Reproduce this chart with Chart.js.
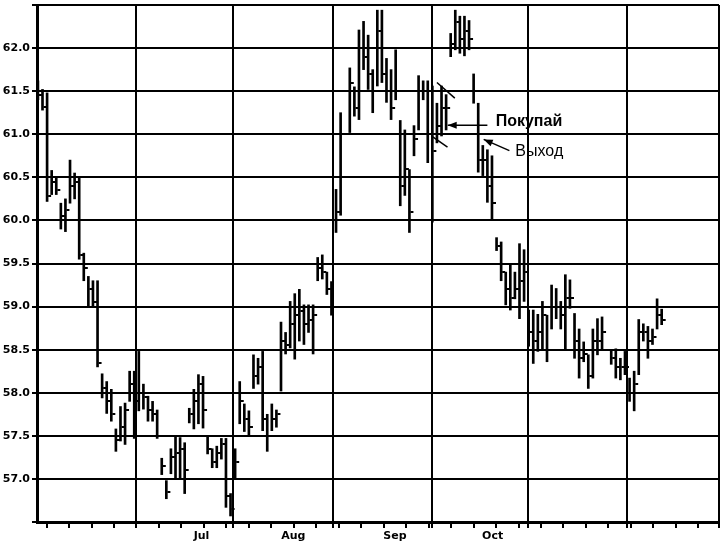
<!DOCTYPE html>
<html>
<head>
<meta charset="utf-8">
<script src="https://cdn.jsdelivr.net/npm/chart.js@4.4.1/dist/chart.umd.min.js"></script>
<style>
  html, body { margin: 0; padding: 0; background: #fff; }
  canvas { display: block; }
</style>
</head>
<body>
<canvas id="myChart" width="724" height="545"></canvas>
<script>
// daily high / low / close, one per trading day (null = no bar)
const highs = [
  61.62, 61.52, 61.48, 60.58, 60.50, 60.20, 60.25, 60.70, 60.55, 60.50,
  59.62, 59.35, 59.30, 59.30, 58.22, 58.13, 58.04, 57.58, 57.84, 57.88,
  58.25, 58.25, 58.48, 58.10, 57.96, 57.90, 57.80, 57.24, 56.98, 57.35,
  57.50, 57.48, 57.42, 57.82, 58.04, 58.21, 58.19, 57.50, 57.35, 57.38,
  57.47, 57.47, 56.83, 57.35, 58.13, 57.87, 57.79, 58.44, 58.40, 58.48,
  57.75, 57.87, 57.80, 58.82, 58.70, 59.06, 59.15, 59.20, 59.02, 59.02,
  59.02, 59.57, 59.60, 59.40, 59.29, 60.36, 61.25, null, 61.77, 61.55,
  62.21, 62.31, 62.15, 61.75, 62.44, 62.44, 61.88, 61.75, 61.98, 61.16,
  61.05, 60.59, 61.10, 61.68, 61.62, 61.62, 61.56, 61.36, 61.56, 61.46,
  62.17, 62.44, 62.37, 62.37, 62.32, 61.70, 61.36, 60.87, 60.82, 60.75,
  59.80, 59.75, 59.40, 59.48, 59.40, 59.73, 59.66, 58.96, 58.96, 58.91,
  59.06, 58.90, 59.25, 59.21, 59.06, 59.37, 59.31, 58.92, 58.74, 58.59,
  58.44, 58.74, 58.86, 58.88, null, 58.50, 58.51, 58.40, 58.48, 58.17,
  58.25, 58.85, 58.80, 58.77, 58.74, 59.09, 58.97
];
const lows = [
  61.40, 61.28, 60.22, 60.30, 60.30, 59.90, 59.87, 60.20, 60.25, 59.55,
  59.30, 59.00, 59.00, 58.30, 57.94, 57.76, 57.67, 57.32, 57.44, 57.40,
  57.90, 57.47, 57.79, 57.81, 57.67, 57.67, 57.47, 57.05, 56.77, 57.06,
  57.00, 57.00, 56.83, 57.65, 57.58, 57.64, 57.59, 57.29, 57.13, 57.13,
  57.23, 56.67, 56.57, 57.00, 57.64, 57.55, 57.50, 58.05, 58.10, 57.56,
  57.32, 57.56, 57.60, 58.02, 58.45, 58.52, 58.39, 58.60, 58.56, 58.70,
  58.45, 59.30, 59.32, 59.14, 58.90, 59.86, 60.06, null, 61.02, 61.21,
  61.17, 61.75, 61.52, 61.25, 61.56, 61.60, 61.37, 61.17, 61.40, 60.17,
  60.29, 59.86, 60.75, 61.05, 61.40, 60.67, 59.98, 60.90, 60.98, 61.05,
  61.90, 61.98, 61.94, 61.91, 61.98, 61.36, 60.56, 60.52, 60.21, 60.01,
  59.65, 59.30, 59.02, 58.96, 59.09, 58.86, 59.06, 58.54, 58.34, 58.48,
  58.51, 58.36, 58.74, 58.86, 58.74, 58.51, 58.98, 58.40, 58.17, 58.36,
  58.05, 58.17, 58.44, 58.51, null, 58.33, 58.17, 58.15, 58.21, 57.90,
  57.79, 58.21, 58.60, 58.40, 58.56, 58.74, 58.79
];
const closes = [
  61.45, 61.32, 60.28, 60.45, 60.35, 60.05, 60.12, 60.40, 60.45, 59.60,
  59.45, 59.20, 59.05, 58.35, 58.05, 57.90, 57.75, 57.45, 57.60, 57.80,
  58.10, 57.90, 58.00, 57.95, 57.80, 57.75, 57.50, 57.15, 56.85, 57.25,
  57.30, 57.35, 57.10, 57.75, 57.90, 58.10, 57.80, 57.35, 57.20, 57.30,
  57.40, 56.80, 56.65, 57.20, 57.90, 57.70, 57.60, 58.20, 58.30, 57.70,
  57.50, 57.70, 57.75, 58.60, 58.55, 58.80, 58.90, 58.95, 58.80, 58.85,
  58.90, 59.45, 59.40, 59.20, 59.00, 60.10, 61.00, null, 61.60, 61.30,
  62.00, 61.90, 61.70, 61.50, 62.20, 61.70, 61.50, 61.30, 61.50, 60.40,
  60.60, 60.10, 60.95, 61.50, 61.50, 61.00, 60.80, 61.10, 61.30, 61.30,
  62.05, 62.30, 62.10, 62.20, 62.10, 61.50, 60.70, 60.70, 60.40, 60.20,
  59.70, 59.40, 59.20, 59.10, 59.20, 59.30, 59.40, 58.70, 58.60, 58.70,
  58.90, 58.50, 59.00, 59.00, 58.90, 59.10, 59.10, 58.60, 58.40, 58.45,
  58.20, 58.60, 58.60, 58.70, null, 58.40, 58.30, 58.30, 58.30, 58.00,
  58.10, 58.70, 58.70, 58.60, 58.65, 58.90, 58.85
];

// axis: month names and where they sit (in trading days)
const monthNames = ['Jul', 'Aug', 'Sep', 'Oct'];
const monthLabelPos = [35.67, 55.67, 77.84, 99.15];
const monthLines = [21.32, 42.63, 64.37, 85.89, 106.76, 128.5, 148.5];
const xMin = -0.2, xMax = 148.5;
const yMin = 56.5, yMax = 62.5;

// flag lines and notes
const flagTop = [{x: 87.0, y: 61.60}, {x: 90.9, y: 61.42}];
const flagBottom = [{x: 86.1, y: 60.97}, {x: 89.3, y: 60.85}];
const noteText = ['Покупай', 'Выход'];
const noteX = [99.8, 104.1];
const noteY = [61.145, 60.80];
const noteFont = ['bold 16px "Liberation Sans"', '16px "Liberation Sans"'];
// arrows: [fromX, fromY, toX, toY]
const arrows = [
  [98.0, 61.105, 89.35, 61.105],
  [102.8, 60.81, 97.2, 60.94]
];

// weekly tick marks
const weekTicks = [];
for (let k = 0; k < 30; k++) weekTicks.push(1.89 + 4.9 * k);

function tickKind(v) {
  if (monthLines.includes(v)) return 'm';
  if (monthLabelPos.includes(v)) return 'l';
  return 'w';
}

// close tick drawn right of the bar
const closeTick = document.createElement('canvas');
closeTick.width = 10;
closeTick.height = 2;
closeTick.getContext('2d').fillRect(6, 0, 3, 2);

const rangeData = [], closeData = [];
highs.forEach((h, i) => {
  if (h === null) return;
  rangeData.push({x: i, y: [lows[i], h]});
  closeData.push({x: i, y: closes[i]});
});

const notesPlugin = {
  id: 'notes',
  afterDatasetsDraw(chart) {
    const xs = chart.scales.x, ys = chart.scales.y, ctx = chart.ctx;
    ctx.save();
    ctx.strokeStyle = '#000';
    ctx.fillStyle = '#000';
    ctx.lineWidth = 1.5;
    arrows.forEach(a => {
      const x1 = xs.getPixelForValue(a[0]), y1 = ys.getPixelForValue(a[1]);
      const x2 = xs.getPixelForValue(a[2]), y2 = ys.getPixelForValue(a[3]);
      const ang = Math.atan2(y2 - y1, x2 - x1);
      ctx.beginPath();
      ctx.moveTo(x1, y1);
      ctx.lineTo(x2, y2);
      ctx.stroke();
      ctx.beginPath();
      ctx.moveTo(x2, y2);
      ctx.lineTo(x2 - 9 * Math.cos(ang) + 3.5 * Math.sin(ang), y2 - 9 * Math.sin(ang) - 3.5 * Math.cos(ang));
      ctx.lineTo(x2 - 9 * Math.cos(ang) - 3.5 * Math.sin(ang), y2 - 9 * Math.sin(ang) + 3.5 * Math.cos(ang));
      ctx.closePath();
      ctx.fill();
    });
    ctx.textBaseline = 'middle';
    ctx.textAlign = 'left';
    noteText.forEach((t, i) => {
      ctx.font = noteFont[i];
      ctx.fillText(t, xs.getPixelForValue(noteX[i]), ys.getPixelForValue(noteY[i]));
    });
    ctx.restore();
  }
};

Chart.defaults.font.family = '"DejaVu Sans"';
Chart.defaults.color = '#000';

const chart = new Chart(document.getElementById('myChart'), {
  type: 'scatter',
  data: {
    datasets: [
      {
        type: 'bar',
        data: rangeData,
        backgroundColor: '#000',
        borderWidth: 0,
        barThickness: 2,
        grouped: false
      },
      {
        type: 'scatter',
        data: closeData,
        pointStyle: closeTick,
        pointRadius: 3
      },
      {
        type: 'line',
        data: flagTop,
        borderColor: '#000',
        borderWidth: 1.5,
        pointRadius: 0
      },
      {
        type: 'line',
        data: flagBottom,
        borderColor: '#000',
        borderWidth: 1.5,
        pointRadius: 0
      }
    ]
  },
  options: {
    responsive: false,
    animation: false,
    events: [],
    layout: { padding: { top: 0, right: 3, left: 0, bottom: 0 } },
    plugins: {
      legend: { display: false },
      tooltip: { enabled: false }
    },
    scales: {
      x: {
        type: 'linear',
        min: xMin,
        max: xMax,
        offset: false,
        afterBuildTicks: s => {
          const all = weekTicks.concat(monthLines, monthLabelPos);
          all.sort((a, b) => a - b);
          s.ticks = all.map(v => ({value: v}));
        },
        afterFit: s => { s.height = 23; },
        border: { display: true, color: '#000', width: 3 },
        grid: {
          offset: false,
          lineWidth: 2,
          tickLength: 6,
          color: c => tickKind(c.tick.value) === 'm' ? '#000' : 'rgba(0,0,0,0)',
          tickColor: c => tickKind(c.tick.value) === 'l' ? 'rgba(0,0,0,0)' : '#000'
        },
        ticks: {
          autoSkip: false,
          maxRotation: 0,
          padding: 2,
          font: { size: 11, weight: 'bold' },
          callback: v => {
            const i = monthLabelPos.indexOf(v);
            return i >= 0 ? monthNames[i] : '';
          }
        }
      },
      y: {
        min: yMin,
        max: yMax,
        afterFit: s => { s.width = 37; },
        border: { display: true, color: '#000', width: 3 },
        grid: { color: '#000', lineWidth: 2, tickLength: 5 },
        ticks: {
          stepSize: 0.5,
          padding: 2,
          // small line height so the empty top label takes no room
          font: { size: 11, weight: 'bold', lineHeight: 0.2 },
          callback: v => (v < 56.9 || v > 62.1) ? '' : v.toFixed(1)
        }
      }
    }
  },
  plugins: [notesPlugin]
});
</script>
</body>
</html>
